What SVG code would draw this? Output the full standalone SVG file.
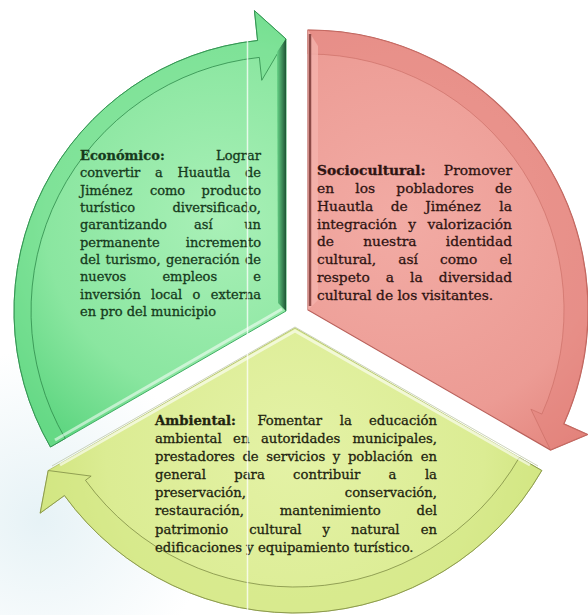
<svg xmlns="http://www.w3.org/2000/svg" width="588" height="615" viewBox="0 0 588 615">
<defs>
<style>
.t{font-family:"DejaVu Serif","Liberation Serif",serif;stroke-width:0.3px}
.ft{font-size:13px}
.fs{font-size:13.8px}
.fa{font-size:13.2px}
.b{font-weight:bold}
.e{text-anchor:end}
.gt{fill:#163a1c;stroke:#163a1c}
.rt{fill:#2f1412;stroke:#2f1412}
.yt{fill:#22240f;stroke:#22240f}
.band{stroke-width:1;stroke-linejoin:round}
</style>
<radialGradient id="bgHaze" gradientUnits="userSpaceOnUse" cx="40" cy="520" r="170">
<stop offset="0" stop-color="#dcedf2"/><stop offset="1" stop-color="#ffffff"/>
</radialGradient>
<radialGradient id="gFill" gradientUnits="userSpaceOnUse" cx="220" cy="220" r="270">
<stop offset="0" stop-color="#a9f0b7"/><stop offset="0.65" stop-color="#8ae6a0"/><stop offset="1" stop-color="#5cd57f"/>
</radialGradient>
<linearGradient id="gEdge" x1="0" y1="0" x2="1" y2="0">
<stop offset="0" stop-color="#66d286"/><stop offset="1" stop-color="#1e5535"/>
</linearGradient>
<radialGradient id="rFill" gradientUnits="userSpaceOnUse" cx="400" cy="220" r="290">
<stop offset="0" stop-color="#f2aba4"/><stop offset="0.7" stop-color="#ec9b94"/><stop offset="1" stop-color="#e3847c"/>
</radialGradient>
<radialGradient id="yFill" gradientUnits="userSpaceOnUse" cx="295" cy="450" r="270">
<stop offset="0" stop-color="#e4f2a6"/><stop offset="0.7" stop-color="#dbec93"/><stop offset="1" stop-color="#cfe37b"/>
</radialGradient>
</defs>

<rect width="588" height="615" fill="#ffffff"/>
<rect width="588" height="615" fill="url(#bgHaze)" opacity="0.7"/>

<g id="node-economico">
<path d="M286,311 L50.44,447 A272,272 0 0 1 257.57,40.5 L254.43,10.65 L286,39 Z" fill="url(#gFill)" stroke="#3fae63" stroke-width="1"/>
<path class="band" d="M50.44,447 A272,272 0 0 1 257.57,40.5 L254.43,10.65 L286,39 L261.75,80.3 L259.35,57.4 A255,255 0 0 0 65.2,438.5 Z" fill="#72dd8e" fill-opacity="0.45" stroke="#2f8c4c" stroke-opacity="0.8"/>
<path d="M277,52 L286,39 L286,311 L278,303 Z" fill="url(#gEdge)"/>
<line x1="282" y1="309" x2="55" y2="440" stroke="#ffffff" stroke-width="3" stroke-opacity="0.55"/>
<g class="t ft gt">
<text x="80" y="160" class="b">Económico:</text>
<text x="261" y="160" class="e">Lograr</text>
<text y="177.3"><tspan x="80">convertir</tspan><tspan x="155">a</tspan><tspan x="177.4">Huautla</tspan></text>
<text x="261" y="177.3" class="e">de</text>
<text y="194.7"><tspan x="80">Jiménez</tspan><tspan x="149.9">como</tspan></text>
<text x="261" y="194.7" class="e">producto</text>
<text x="80" y="212">turístico</text>
<text x="261" y="212" class="e">diversificado,</text>
<text y="229.3"><tspan x="80">garantizando</tspan><tspan x="194">así</tspan></text>
<text x="261" y="229.3" class="e">un</text>
<text x="80" y="246.7">permanente</text>
<text x="261" y="246.7" class="e">incremento</text>
<text y="264"><tspan x="80">del</tspan><tspan x="105.6">turismo,</tspan><tspan x="165.9">generación</tspan></text>
<text x="261" y="264" class="e">de</text>
<text y="281.3"><tspan x="80">nuevos</tspan><tspan x="162.4">empleos</tspan></text>
<text x="261" y="281.3" class="e">e</text>
<text y="298.7"><tspan x="80">inversión</tspan><tspan x="151.1">local</tspan><tspan x="192.6">o</tspan></text>
<text x="261" y="298.7" class="e">externa</text>
<text x="80" y="316">en pro del municipio</text>
</g>
</g>

<g id="node-sociocultural">
<path d="M308,310 L308,30 A280,280 0 0 1 563.8,423.9 L587.5,434.5 L550.5,450 Z" fill="url(#rFill)" stroke="#b9605a" stroke-width="1.2"/>
<path class="band" d="M308,30 A280,280 0 0 1 563.8,423.9 L587.5,434.5 L550.5,450 L530.9,409.2 L541.9,414.1 A256,256 0 0 0 308,54 Z" fill="#e2807a" fill-opacity="0.45" stroke="#c86a63" stroke-opacity="0.6"/>
<path d="M308,30 L318,46 L318,300 L308,310 Z" fill="#f4b3ac" fill-opacity="0.8"/>
<line x1="310" y1="34" x2="310" y2="306" stroke="#8d4a47" stroke-width="2.5"/>
<g class="t fs rt">
<text x="317" y="175" class="b">Sociocultural:</text>
<text x="512" y="175" class="e">Promover</text>
<text y="192.9"><tspan x="317">en</tspan><tspan x="355.3">los</tspan><tspan x="396.3">pobladores</tspan></text>
<text x="512" y="192.9" class="e">de</text>
<text y="210.7"><tspan x="317">Huautla</tspan><tspan x="390.7">de</tspan><tspan x="425.2">Jiménez</tspan></text>
<text x="512" y="210.7" class="e">la</text>
<text y="228.6"><tspan x="317">integración</tspan><tspan x="408.3">y</tspan></text>
<text x="512" y="228.6" class="e">valorización</text>
<text y="246.4"><tspan x="317">de</tspan><tspan x="363.2">nuestra</tspan></text>
<text x="512" y="246.4" class="e">identidad</text>
<text y="264.3"><tspan x="317">cultural,</tspan><tspan x="398.2">así</tspan><tspan x="440">como</tspan></text>
<text x="512" y="264.3" class="e">el</text>
<text y="282.2"><tspan x="317">respeto</tspan><tspan x="385.8">a</tspan><tspan x="410.1">la</tspan></text>
<text x="512" y="282.2" class="e">diversidad</text>
<text x="317" y="300">cultural de los visitantes.</text>
</g>
</g>

<g id="node-ambiental">
<path d="M295,328 L541.8,470.5 A285,285 0 0 1 64.43,495.52 L40.16,513.15 L48.2,470.5 Z" fill="url(#yFill)" stroke="#b9c96e" stroke-width="1"/>
<path class="band" d="M541.8,470.5 A285,285 0 0 1 64.43,495.52 L40.16,513.15 L48.2,470.5 L91.13,476.12 L85.46,480.24 A259,259 0 0 0 519.3,457.5 Z" fill="#d3e785" fill-opacity="0.5" stroke="#7f8d45" stroke-opacity="0.8"/>
<polyline points="60,465 295,331 530,465" fill="none" stroke="#ffffff" stroke-width="3" stroke-opacity="0.6"/>
<polyline points="52,466 295,327 538,466" fill="none" stroke="#b8c2a0" stroke-width="1" stroke-opacity="0.7"/>
<g class="t fa yt">
<text x="155" y="425" class="b">Ambiental:</text>
<text y="425"><tspan x="257.4">Fomentar</tspan><tspan x="339.8">la</tspan></text>
<text x="437" y="425" class="e">educación</text>
<text y="443.1"><tspan x="155">ambiental</tspan><tspan x="233.1">en</tspan><tspan x="260.9">autoridades</tspan></text>
<text x="437" y="443.1" class="e">municipales,</text>
<text y="461.1"><tspan x="155">prestadores</tspan><tspan x="242.4">de</tspan><tspan x="266.3">servicios</tspan><tspan x="332.8">y</tspan><tspan x="347.9">población</tspan></text>
<text x="437" y="461.1" class="e">en</text>
<text y="479.2"><tspan x="155">general</tspan><tspan x="234.3">para</tspan><tspan x="293.1">contribuir</tspan><tspan x="388.6">a</tspan></text>
<text x="437" y="479.2" class="e">la</text>
<text x="155" y="497.3">preservación,</text>
<text x="437" y="497.3" class="e">conservación,</text>
<text y="515.4"><tspan x="155">restauración,</tspan><tspan x="279.7">mantenimiento</tspan></text>
<text x="437" y="515.4" class="e">del</text>
<text y="533.5"><tspan x="155">patrimonio</tspan><tspan x="249.2">cultural</tspan><tspan x="322.6">y</tspan><tspan x="351">natural</tspan></text>
<text x="437" y="533.5" class="e">en</text>
<text x="155" y="551.6">edificaciones y equipamiento turístico.</text>
</g>
</g>

<g id="connectors"></g>

<line x1="247.5" y1="0" x2="247.5" y2="615" stroke="#ffffff" stroke-width="1.5" stroke-opacity="0.75"/>
</svg>
